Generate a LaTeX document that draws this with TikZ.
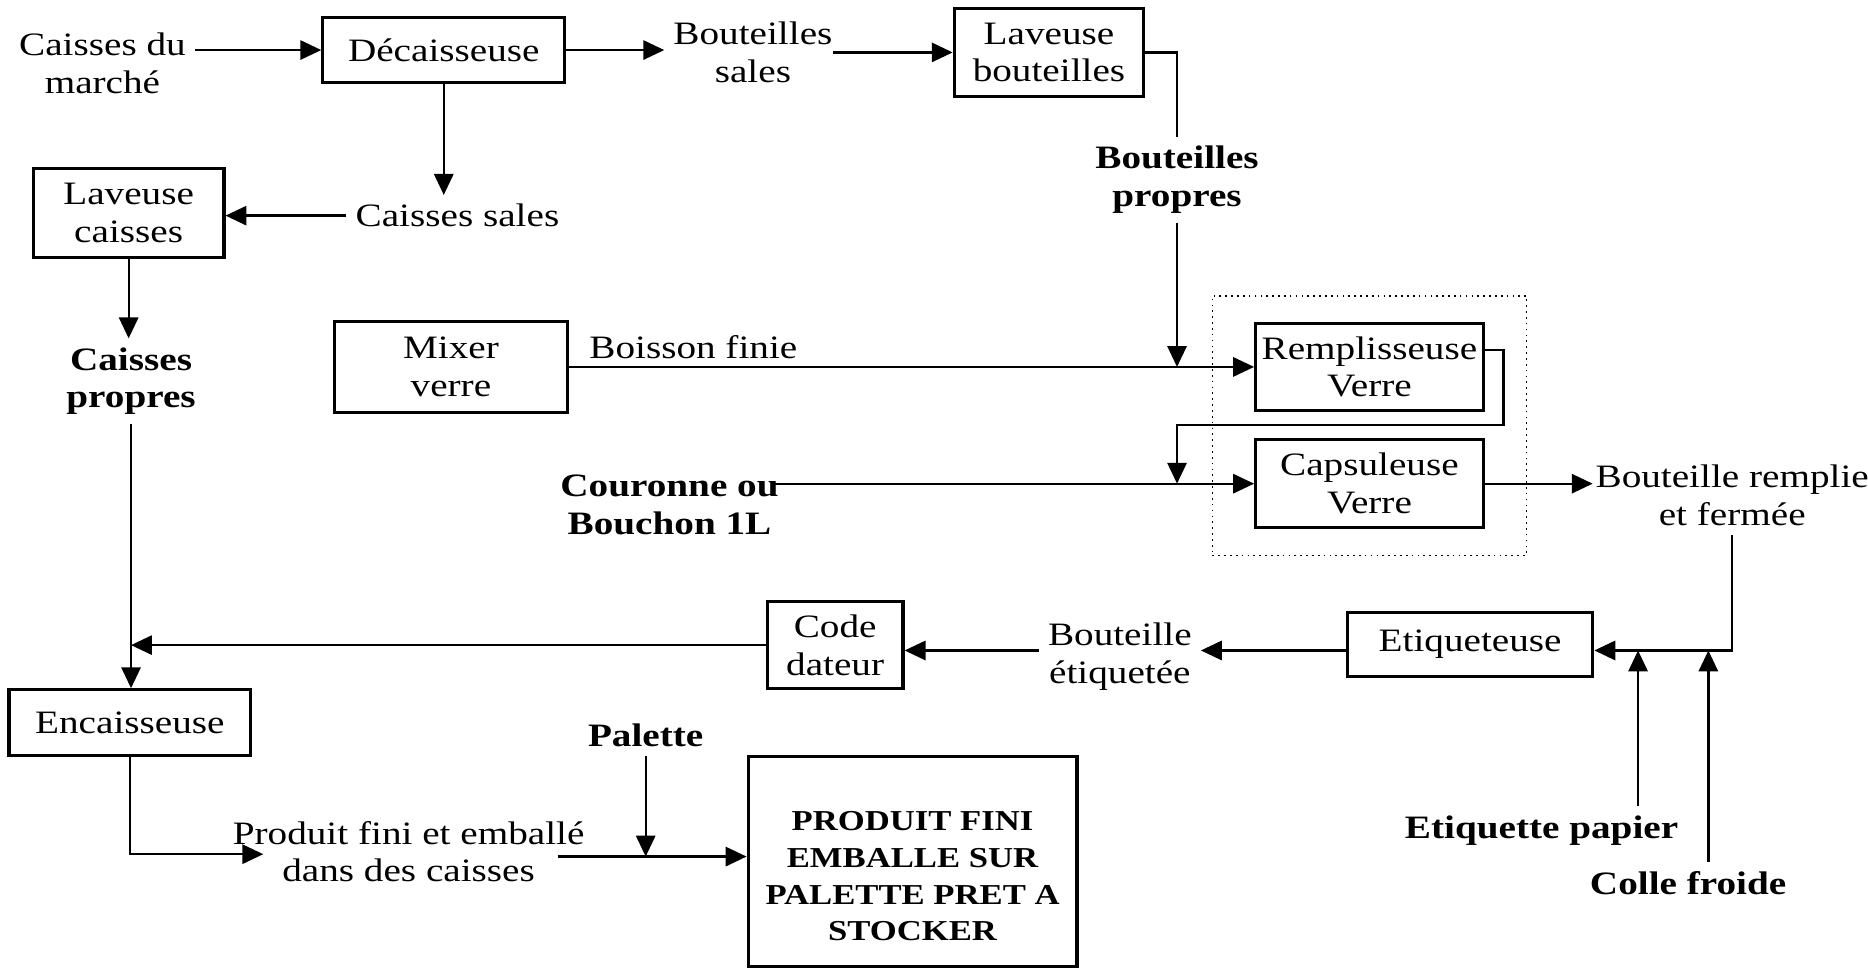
\documentclass[tikz,border=0pt]{standalone}
\usepackage{fontspec}
\setmainfont{Liberation Serif}[FakeStretch=1.2]
\usetikzlibrary{arrows.meta,calc,fit}
\begin{document}
\begin{tikzpicture}[x=0.1mm,y=-0.1mm,
  txt/.style={font=\fontsize{7.8}{9}\selectfont, align=center, inner sep=2pt},
  btxt/.style={txt, font=\fontsize{7.8}{9}\selectfont\bfseries},
  box/.style={txt, draw, line width=0.75pt, inner sep=0pt},
  con/.style={line width=0.55pt},
  arr/.style={con, -{Triangle[length=5pt,width=4.6pt]}},
]
\path[use as bounding box] (0,0) rectangle (1568,813);

% machines
\node[box, minimum width=20.3mm, minimum height=5.4mm] (dec) at (372.5,42) {Décaisseuse};
\node[box, minimum width=15.9mm, minimum height=7.4mm] (lb) at (880.5,44) {Laveuse\\bouteilles};
\node[box, minimum width=16mm, minimum height=7.5mm] (lc) at (108,179) {Laveuse\\caisses};
\node[box, minimum width=19.5mm, minimum height=7.6mm] (mix) at (378.5,308) {Mixer\\verre};
\node[box, minimum width=19.1mm, minimum height=7.3mm] (rem) at (1149.5,308) {Remplisseuse\\Verre};
\node[box, minimum width=19.1mm, minimum height=7.4mm] (cap) at (1149.5,406) {Capsuleuse\\Verre};
\node[box, minimum width=20.3mm, minimum height=5.5mm] (enc) at (109,606.5) {Encaisseuse};
\node[box, minimum width=11.4mm, minimum height=7.3mm] (cd) at (701,541.5) {Code\\dateur};
\node[box, minimum width=20.6mm, minimum height=5.4mm] (eti) at (1234,541) {Etiqueteuse};
\node[box, minimum width=27.6mm, minimum height=17.6mm,
      font=\fontsize{6.9}{8.8}\selectfont\bfseries] (pfe) at (766,723)
      {\rule{0pt}{4.1mm}PRODUIT FINI\\EMBALLE SUR\\PALETTE PRET A\\STOCKER};

% filling and capping group
\node[draw, densely dotted, line width=0.4pt, inner xsep=3.5mm, inner ysep=2.2mm,
      fit=(rem)(cap)] (grp) {};

% flows and inputs
\node[txt] (cin) at (86,53) {Caisses du\\marché};
\node[txt] (bs) at (632,44) {Bouteilles\\sales};
\node[btxt] (bp) at (988,151) {Bouteilles\\propres};
\node[txt] (cs) at (384,181) {Caisses sales};
\node[btxt] (cp) at (110,320) {Caisses\\propres};
\node[txt] (bf) at (582,291) {Boisson finie};
\node[btxt] (cou) at (562,424) {Couronne ou\\Bouchon 1L};
\node[txt] (brf) at (1454,416) {Bouteille remplie\\et fermée};
\node[txt] (be) at (940,551) {Bouteille\\étiquetée};
\node[btxt] (pal) at (542,617) {Palette};
\node[txt] (pf) at (343,715) {Produit fini et emballé\\dans des caisses};
\node[btxt] (ep) at (1294,697) {Etiquette papier};
\node[btxt] (cf) at (1417,741) {Colle froide};

% junctions
\coordinate (j1) at (bp.south |- rem.west);
\coordinate (ro) at (1262,294);
\coordinate (jl) at (988,357);
\coordinate (jr) at (1454,546);
\coordinate (jp) at (1375,546);
\coordinate (jc) at (1434,546);
\coordinate (jk) at (cp.south |- cd.west);
\coordinate (pfin) at (221,717);
\coordinate (jq0) at (468,719);
\coordinate (jq) at (pal.south |- jq0);

% connectors
\draw[arr] (cin.east |- dec.west) -- (dec.west);
\draw[arr] (dec.east) -- (dec.east -| bs.west);
\draw[arr] ([xshift=-2pt]bs.east |- lb.west) -- (lb.west);
\draw[con] (lb.east) -| (bp.north);
\draw[arr] (bp.south) -- (j1);
\draw[arr] (dec.south) -- (dec.south |- cs.north);
\draw[arr] (cs.west) -- (cs.west -| lc.east);
\draw[arr] (lc.south) -- (lc.south |- cp.north);
\draw[arr] (cp.south) -- (cp.south |- enc.north);
\draw[arr] (mix.east) -- (rem.west);
\draw[arr] (rem.east |- ro) -- (ro) |- (jl) -- (jl |- cap.west);
\draw[arr] ([xshift=-3pt]cou.east |- cap.west) -- (cap.west);
\draw[arr] (cap.east) -- ([xshift=1.5pt]cap.east -| brf.west);
\draw[arr] (brf.south) -- (jr) -- (jr -| eti.east);
\draw[arr] (ep.north -| jp) -- (jp);
\draw[arr] (cf.north -| jc) -- (jc);
\draw[arr] (jr -| eti.west) -- (jr -| be.east);
\draw[arr] (jr -| be.west) -- (jr -| cd.east);
\draw[arr] (cd.west) -- (jk);
\draw[arr] (enc.south) |- (pfin);
\draw[arr] (pal.south) -- (jq);
\draw[arr] (jq0) -- (jq0 -| pfe.west);
\end{tikzpicture}
\end{document}
